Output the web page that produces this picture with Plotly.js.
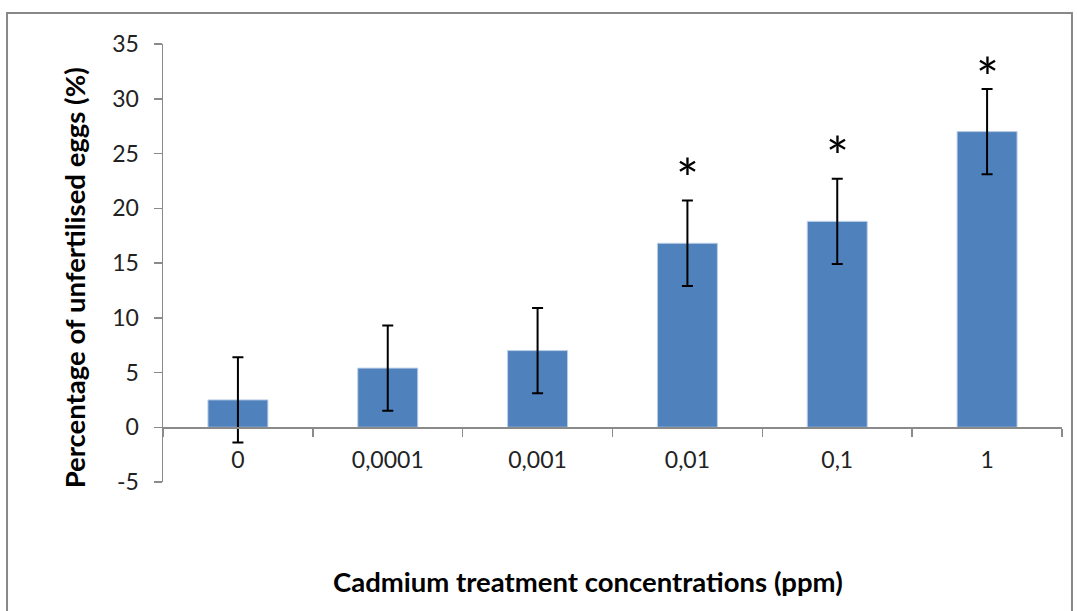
<!DOCTYPE html>
<html>
<head>
<meta charset="utf-8">
<script src="https://cdn.plot.ly/plotly-3.0.1.min.js"></script>
<style>html,body{margin:0;padding:0;background:#fff;}#chart{width:1077px;height:611px;}</style>
</head>
<body>
<div id="chart"></div>
<script>
const categories = ["0", "0,0001", "0,001", "0,01", "0,1", "1"];
const values = [2.5, 5.4, 7.0, 16.8, 18.8, 27.0];
const errors = [3.9, 3.9, 3.9, 3.9, 3.9, 3.9];
const significant = ["", "", "", "*", "*", "*"];
// height (in % units) at which each significance mark is centred
const starLevels = [null, null, null, 23.6, 25.6, 32.9];
const yTicks = [-5, 0, 5, 10, 15, 20, 25, 30, 35];
const yTickLabels = ["-5", "0", "5", "10", "15", "20", "25", "30", "35"];

const FONT = "Lato, 'Open Sans', sans-serif";

const bars = {
  type: "bar",
  x: categories,
  y: values,
  marker: {color: "#4F81BD", line: {color: "#B9CDE5", width: 1}},
  error_y: {type: "data", array: errors, visible: true, color: "#000", thickness: 2, width: 5.5},
  hoverinfo: "x+y",
  showlegend: false
};

// on a category axis, the i-th category sits at position i
const starAnnotations = categories
  .map((c, i) => i)
  .filter(i => significant[i])
  .map(i => ({
    text: significant[i],
    xref: "x", yref: "y",
    x: i, y: starLevels[i],
    xanchor: "center", yanchor: "middle",
    showarrow: false,
    yshift: -9,
    font: {family: FONT, size: 54, color: "#000"}
  }));

const layout = {
  width: 1077,
  height: 611,
  margin: {l: 163, r: 15, t: 44, b: 129},
  paper_bgcolor: "#fff",
  plot_bgcolor: "rgba(0,0,0,0)",
  font: {family: FONT, color: "#222", size: 22},
  bargap: 0.6,
  xaxis: {
    type: "category",
    anchor: "free",
    position: 0.125,
    showline: true,
    linecolor: "#8A8A8A",
    linewidth: 1.5,
    ticks: "outside",
    tickson: "boundaries",
    ticklen: 8,
    tickcolor: "#8A8A8A",
    tickwidth: 1.5,
    ticklabelstandoff: 12,
    tickfont: {family: FONT, size: 23, color: "#222"},
    showgrid: false,
    zeroline: false,
    fixedrange: true
  },
  yaxis: {
    range: [-5, 35],
    tickvals: yTicks,
    ticktext: yTickLabels,
    showline: true,
    linecolor: "#8A8A8A",
    linewidth: 1.5,
    ticks: "outside",
    ticklen: 8,
    tickcolor: "#8A8A8A",
    tickwidth: 1.5,
    ticklabelstandoff: 10,
    tickfont: {family: FONT, size: 23, color: "#222"},
    showgrid: false,
    zeroline: false,
    fixedrange: true
  },
  annotations: [
    {
      text: "<b>Cadmium treatment concentrations (ppm)</b>",
      xref: "paper", yref: "paper",
      x: 0.473, y: -0.228,
      xanchor: "center", yanchor: "middle",
      showarrow: false,
      font: {family: FONT, size: 27.5, color: "#000"}
    },
    {
      text: "<b>Percentage of unfertilised eggs (%)</b>",
      xref: "paper", yref: "paper",
      x: -0.098, y: 0.467,
      xanchor: "center", yanchor: "middle",
      textangle: -90,
      showarrow: false,
      font: {family: FONT, size: 27.5, color: "#000"}
    }
  ].concat(starAnnotations),
  shapes: [
    {
      type: "rect", xref: "paper", yref: "paper",
      x0: -0.1735, x1: 1.0111, y0: -0.45, y1: 1.0708,
      line: {color: "#888", width: 2},
      fillcolor: "rgba(0,0,0,0)",
      layer: "below"
    }
  ]
};

Plotly.newPlot("chart", [bars], layout, {displayModeBar: false, staticPlot: true});
</script>
</body>
</html>
